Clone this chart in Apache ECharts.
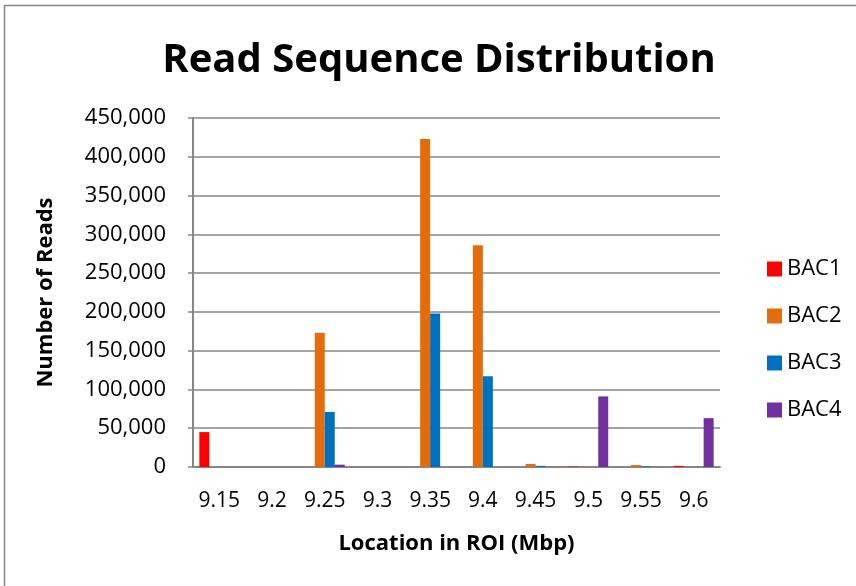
<!DOCTYPE html>
<html>
<head>
<meta charset="utf-8">
<script src="https://cdn.jsdelivr.net/npm/echarts@6/dist/echarts.min.js"></script>
<style>
html,body{margin:0;padding:0;background:#fff;}
#chart{width:856px;height:586px;}
</style>
</head>
<body>
<div id="chart"></div>
<script>
const categories = ['9.15','9.2','9.25','9.3','9.35','9.4','9.45','9.5','9.55','9.6'];
const seriesNames = ['BAC1','BAC2','BAC3','BAC4'];
const bac1 = [45000, 0, 0, 0, 0, 0, 0, 600, 0, 1500];
const bac2 = [0, 0, 173000, 0, 423000, 286000, 4000, 600, 2500, 0];
const bac3 = [0, 0, 71000, 0, 198000, 117000, 1500, 0, 800, 0];
const bac4 = [0, 0, 3000, 0, 0, 0, 0, 91000, 0, 63000];
const colors = ['#FF0000', '#E46C0A', '#0070C0', '#7030A0'];

const FONT = 'Open Sans';
const chart = echarts.init(document.getElementById('chart'));
const allData = [bac1, bac2, bac3, bac4];
chart.setOption({
  animation: false,
  title: {
    text: 'Read Sequence Distribution',
    left: 434, top: 36, textAlign: 'center',
    textStyle: {fontFamily: FONT, fontWeight: 'bold', fontSize: 40, color: '#000'}
  },
  legend: {
    orient: 'vertical', left: 762, top: 253, itemGap: 25,
    itemWidth: 15, itemHeight: 15, icon: 'rect',
    textStyle: {fontFamily: FONT, fontSize: 22, color: '#000'},
    data: seriesNames
  },
  grid: {left: 193, right: 136, top: 118, bottom: 119},
  xAxis: {
    type: 'category', data: categories,
    name: 'Location in ROI (Mbp)', nameLocation: 'middle', nameGap: 66,
    nameTextStyle: {fontFamily: FONT, fontWeight: 'bold', fontSize: 22, color: '#000'},
    axisLine: {lineStyle: {color: '#868686', width: 2}},
    axisTick: {show: false},
    axisLabel: {fontFamily: FONT, fontSize: 21, color: '#000', margin: 24, interval: 0}
  },
  yAxis: {
    type: 'value', min: 0, max: 450000, interval: 50000,
    name: 'Number of Reads', nameLocation: 'middle', nameGap: 136, nameRotate: 90,
    nameTextStyle: {fontFamily: FONT, fontWeight: 'bold', fontSize: 22, color: '#000'},
    axisLine: {show: true, lineStyle: {color: '#868686', width: 2}},
    axisTick: {show: true, length: 5, lineStyle: {color: '#868686', width: 1.5}},
    splitLine: {lineStyle: {color: '#868686', width: 1.5}},
    axisLabel: {
      fontFamily: FONT, fontSize: 22, color: '#000', margin: 27,
      formatter: v => v.toLocaleString('en-US')
    }
  },
  series: seriesNames.map((n, i) => ({
    name: n, type: 'bar', data: allData[i],
    barWidth: 10, barGap: '0%',
    itemStyle: {color: colors[i]}
  })),
  graphic: [{
    type: 'rect', silent: true,
    shape: {x: 4.5, y: 5.5, width: 900, height: 700},
    style: {fill: 'none', stroke: '#868686', lineWidth: 1.5}
  }]
});
</script>
</body>
</html>
